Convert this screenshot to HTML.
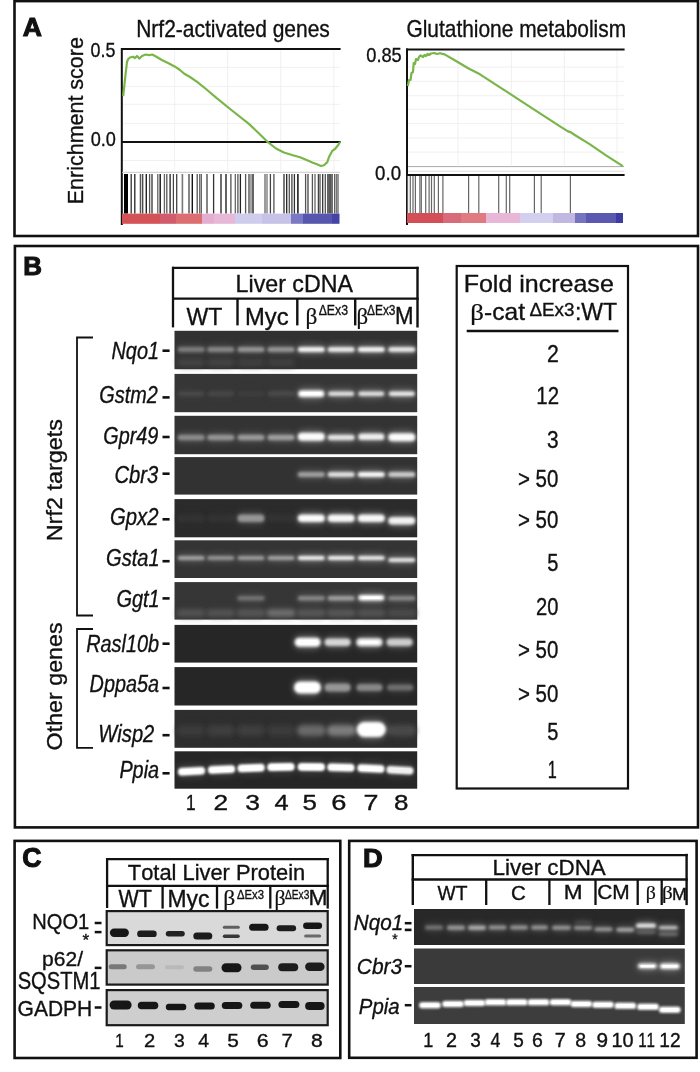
<!DOCTYPE html>
<html><head><meta charset="utf-8"><title>Figure</title>
<style>
html,body{margin:0;padding:0;background:#fff;}
body{width:700px;height:1072px;overflow:hidden;}
svg{display:block;}
text{font-family:'Liberation Sans', sans-serif;font-kerning:none;stroke:#111;stroke-width:0.35px;}
</style></head><body>
<svg width="700" height="1072" viewBox="0 0 700 1072">
<defs>
<filter id="b1" x="-20%" y="-100%" width="140%" height="300%"><feGaussianBlur stdDeviation="1.5"/></filter>
<filter id="b2" x="-20%" y="-100%" width="140%" height="300%"><feGaussianBlur stdDeviation="2"/></filter>
<filter id="b3" x="-30%" y="-150%" width="160%" height="400%"><feGaussianBlur stdDeviation="3"/></filter>
<filter id="b08" x="-20%" y="-100%" width="140%" height="300%"><feGaussianBlur stdDeviation="0.9"/></filter>
<filter id="b05" x="-20%" y="-100%" width="140%" height="300%"><feGaussianBlur stdDeviation="0.7"/></filter>
</defs>
<rect width="700" height="1072" fill="#fff"/>
<rect x="14.5" y="1.1" width="683.5" height="234.9" fill="none" stroke="#111" stroke-width="2.6"/>
<text x="22.89" y="36.05" font-size="26.3" textLength="19.16" lengthAdjust="spacingAndGlyphs" font-weight="bold" fill="#111" style="stroke-width:1.1px">A</text>
<text x="136.18" y="37.30" font-size="24" textLength="193.68" lengthAdjust="spacingAndGlyphs" fill="#111">Nrf2-activated genes</text>
<text x="406.45" y="37.10" font-size="24" textLength="219.63" lengthAdjust="spacingAndGlyphs" fill="#111">Glutathione metabolism</text>
<g transform="translate(83.00,202.50) rotate(-90)"><text x="-1.76" y="0" font-size="22" textLength="167.12" lengthAdjust="spacingAndGlyphs" fill="#111">Enrichment score</text></g>
<text x="90.60" y="57.00" font-size="21" textLength="24.85" lengthAdjust="spacingAndGlyphs" fill="#111">0.5</text>
<text x="90.69" y="146.10" font-size="21" textLength="25.22" lengthAdjust="spacingAndGlyphs" fill="#111">0.0</text>
<text x="366.29" y="62.40" font-size="21" textLength="35.48" lengthAdjust="spacingAndGlyphs" fill="#111">0.85</text>
<text x="375.07" y="179.50" font-size="21" textLength="25.96" lengthAdjust="spacingAndGlyphs" fill="#111">0.0</text>
<line x1="174.6" y1="50" x2="174.6" y2="171" stroke="#ececec" stroke-width="0.8"/>
<line x1="227.7" y1="50" x2="227.7" y2="171" stroke="#ececec" stroke-width="0.8"/>
<line x1="280.7" y1="50" x2="280.7" y2="171" stroke="#ececec" stroke-width="0.8"/>
<line x1="333.8" y1="50" x2="333.8" y2="171" stroke="#ececec" stroke-width="0.8"/>
<line x1="123" y1="67.3" x2="340" y2="67.3" stroke="#ececec" stroke-width="0.8"/>
<line x1="123" y1="86.6" x2="340" y2="86.6" stroke="#ececec" stroke-width="0.8"/>
<line x1="123" y1="104.3" x2="340" y2="104.3" stroke="#ececec" stroke-width="0.8"/>
<line x1="123" y1="123.6" x2="340" y2="123.6" stroke="#ececec" stroke-width="0.8"/>
<line x1="123" y1="160.5" x2="340" y2="160.5" stroke="#ececec" stroke-width="0.8"/>
<line x1="458" y1="50" x2="458" y2="165" stroke="#ececec" stroke-width="0.8"/>
<line x1="511.4" y1="50" x2="511.4" y2="165" stroke="#ececec" stroke-width="0.8"/>
<line x1="564.3" y1="50" x2="564.3" y2="165" stroke="#ececec" stroke-width="0.8"/>
<line x1="617" y1="50" x2="617" y2="165" stroke="#ececec" stroke-width="0.8"/>
<line x1="408" y1="67.1" x2="624" y2="67.1" stroke="#ececec" stroke-width="0.8"/>
<line x1="408" y1="81.4" x2="624" y2="81.4" stroke="#ececec" stroke-width="0.8"/>
<line x1="408" y1="95.7" x2="624" y2="95.7" stroke="#ececec" stroke-width="0.8"/>
<line x1="408" y1="109.3" x2="624" y2="109.3" stroke="#ececec" stroke-width="0.8"/>
<line x1="408" y1="123.6" x2="624" y2="123.6" stroke="#ececec" stroke-width="0.8"/>
<line x1="408" y1="137.9" x2="624" y2="137.9" stroke="#ececec" stroke-width="0.8"/>
<line x1="408" y1="152.1" x2="624" y2="152.1" stroke="#ececec" stroke-width="0.8"/>
<line x1="121.8" y1="48" x2="121.8" y2="225" stroke="#111" stroke-width="2"/>
<line x1="121" y1="49" x2="340.6" y2="49" stroke="#111" stroke-width="2"/>
<line x1="121" y1="141.9" x2="340.6" y2="141.9" stroke="#111" stroke-width="2"/>
<line x1="122" y1="172.3" x2="340" y2="172.3" stroke="#c8c8c8" stroke-width="1"/>
<rect x="124.00" y="174.00" width="4.00" height="39.60" fill="#000"/>
<rect x="130.55" y="174.00" width="1.30" height="39.60" fill="#333"/>
<rect x="134.15" y="174.00" width="1.30" height="39.60" fill="#222"/>
<rect x="139.75" y="174.00" width="1.50" height="39.60" fill="#555"/>
<rect x="142.05" y="174.00" width="1.30" height="39.60" fill="#444"/>
<rect x="145.60" y="174.00" width="1.40" height="39.60" fill="#222"/>
<rect x="148.95" y="174.00" width="1.30" height="39.60" fill="#555"/>
<rect x="151.35" y="174.00" width="1.30" height="39.60" fill="#333"/>
<rect x="157.20" y="174.00" width="1.20" height="39.60" fill="#555"/>
<rect x="159.50" y="174.00" width="1.40" height="39.60" fill="#111"/>
<rect x="163.75" y="174.00" width="1.30" height="39.60" fill="#666"/>
<rect x="166.15" y="174.00" width="1.30" height="39.60" fill="#555"/>
<rect x="169.45" y="174.00" width="1.30" height="39.60" fill="#222"/>
<rect x="172.80" y="174.00" width="1.20" height="39.60" fill="#444"/>
<rect x="176.05" y="174.00" width="1.30" height="39.60" fill="#444"/>
<rect x="181.60" y="174.00" width="1.60" height="39.60" fill="#777"/>
<rect x="188.35" y="174.00" width="1.30" height="39.60" fill="#444"/>
<rect x="191.60" y="174.00" width="1.40" height="39.60" fill="#111"/>
<rect x="196.55" y="174.00" width="1.30" height="39.60" fill="#555"/>
<rect x="199.05" y="174.00" width="1.30" height="39.60" fill="#666"/>
<rect x="200.70" y="174.00" width="1.20" height="39.60" fill="#555"/>
<rect x="206.35" y="174.00" width="1.30" height="39.60" fill="#444"/>
<rect x="212.95" y="174.00" width="1.30" height="39.60" fill="#333"/>
<rect x="220.35" y="174.00" width="1.30" height="39.60" fill="#222"/>
<rect x="225.30" y="174.00" width="1.40" height="39.60" fill="#222"/>
<rect x="230.30" y="174.00" width="1.20" height="39.60" fill="#444"/>
<rect x="234.65" y="174.00" width="1.30" height="39.60" fill="#666"/>
<rect x="237.25" y="174.00" width="1.30" height="39.60" fill="#555"/>
<rect x="239.75" y="174.00" width="1.30" height="39.60" fill="#222"/>
<rect x="244.95" y="174.00" width="1.30" height="39.60" fill="#555"/>
<rect x="248.35" y="174.00" width="1.30" height="39.60" fill="#444"/>
<rect x="250.35" y="174.00" width="1.30" height="39.60" fill="#777"/>
<rect x="252.35" y="174.00" width="1.30" height="39.60" fill="#111"/>
<rect x="264.35" y="174.00" width="1.30" height="39.60" fill="#666"/>
<rect x="266.35" y="174.00" width="1.30" height="39.60" fill="#777"/>
<rect x="269.75" y="174.00" width="1.30" height="39.60" fill="#444"/>
<rect x="273.25" y="174.00" width="1.30" height="39.60" fill="#555"/>
<rect x="283.35" y="174.00" width="1.30" height="39.60" fill="#333"/>
<rect x="286.05" y="174.00" width="1.30" height="39.60" fill="#222"/>
<rect x="288.65" y="174.00" width="1.30" height="39.60" fill="#555"/>
<rect x="291.25" y="174.00" width="1.30" height="39.60" fill="#444"/>
<rect x="293.75" y="174.00" width="1.30" height="39.60" fill="#333"/>
<rect x="297.15" y="174.00" width="1.50" height="39.60" fill="#111"/>
<rect x="304.95" y="174.00" width="1.30" height="39.60" fill="#555"/>
<rect x="307.35" y="174.00" width="1.30" height="39.60" fill="#444"/>
<rect x="311.75" y="174.00" width="1.30" height="39.60" fill="#555"/>
<rect x="314.35" y="174.00" width="1.30" height="39.60" fill="#666"/>
<rect x="317.75" y="174.00" width="1.30" height="39.60" fill="#444"/>
<rect x="319.35" y="174.00" width="1.30" height="39.60" fill="#555"/>
<rect x="322.05" y="174.00" width="1.30" height="39.60" fill="#333"/>
<rect x="324.65" y="174.00" width="1.30" height="39.60" fill="#555"/>
<rect x="327.35" y="174.00" width="1.30" height="39.60" fill="#111"/>
<rect x="329.35" y="174.00" width="1.30" height="39.60" fill="#000"/>
<rect x="331.35" y="174.00" width="1.30" height="39.60" fill="#222"/>
<rect x="334.05" y="174.00" width="1.30" height="39.60" fill="#555"/>
<rect x="335.85" y="174.00" width="1.30" height="39.60" fill="#777"/>
<rect x="337.35" y="174.00" width="1.30" height="39.60" fill="#666"/>
<rect x="122.00" y="213.60" width="38.00" height="10.20" fill="#d45356"/>
<rect x="160.00" y="213.60" width="16.00" height="10.20" fill="#d25c6c"/>
<rect x="176.00" y="213.60" width="26.00" height="10.20" fill="#dc6e72"/>
<rect x="202.00" y="213.60" width="12.00" height="10.20" fill="#e4aed0"/>
<rect x="214.00" y="213.60" width="21.00" height="10.20" fill="#e8b8d8"/>
<rect x="235.00" y="213.60" width="27.00" height="10.20" fill="#cfcdee"/>
<rect x="262.00" y="213.60" width="29.00" height="10.20" fill="#c6c2e8"/>
<rect x="291.00" y="213.60" width="12.00" height="10.20" fill="#7b78c4"/>
<rect x="303.00" y="213.60" width="29.00" height="10.20" fill="#5656ae"/>
<rect x="332.00" y="213.60" width="7.50" height="10.20" fill="#4444a4"/>
<polyline fill="none" stroke="#7ab54a" stroke-width="2.2" stroke-linejoin="round" points="123.2,96.2 124.5,84.0 125.8,72.0 127.0,62.0 128.0,59.3 130.0,57.5 132.9,56.7 135.0,58.0 137.0,56.0 139.3,58.6 142.0,56.0 145.7,54.5 149.0,55.2 152.1,54.5 156.0,56.5 161.8,60.0 168.0,63.0 174.6,66.4 180.0,70.0 184.3,73.8 190.0,77.0 197.1,81.8 206.0,89.0 216.4,97.9 232.0,110.5 248.6,123.6 258.0,132.5 267.9,142.2 276.0,148.5 283.9,152.5 292.0,155.0 300.0,157.3 306.0,159.8 312.9,162.8 317.0,164.2 320.9,166.0 324.0,165.2 327.3,162.1 329.0,157.0 332.2,150.9 335.0,149.0 338.6,144.5 340.0,142.0"/>
<line x1="407" y1="48.4" x2="407" y2="225" stroke="#111" stroke-width="2"/>
<line x1="406" y1="49.4" x2="624.6" y2="49.4" stroke="#111" stroke-width="2"/>
<line x1="408" y1="166.6" x2="624" y2="166.6" stroke="#aaa" stroke-width="1"/>
<line x1="408" y1="171.2" x2="624" y2="171.2" stroke="#ddd" stroke-width="1"/>
<line x1="406" y1="175" x2="624.6" y2="175" stroke="#111" stroke-width="2"/>
<rect x="406.90" y="176.00" width="1.20" height="37.00" fill="#666"/>
<rect x="409.70" y="176.00" width="1.20" height="37.00" fill="#666"/>
<rect x="412.40" y="176.00" width="1.20" height="37.00" fill="#666"/>
<rect x="414.80" y="176.00" width="1.20" height="37.00" fill="#666"/>
<rect x="419.30" y="176.00" width="1.20" height="37.00" fill="#666"/>
<rect x="420.70" y="176.00" width="1.20" height="37.00" fill="#666"/>
<rect x="425.10" y="176.00" width="1.20" height="37.00" fill="#666"/>
<rect x="428.50" y="176.00" width="1.20" height="37.00" fill="#666"/>
<rect x="430.90" y="176.00" width="1.20" height="37.00" fill="#666"/>
<rect x="433.70" y="176.00" width="1.20" height="37.00" fill="#666"/>
<rect x="437.80" y="176.00" width="1.20" height="37.00" fill="#666"/>
<rect x="442.30" y="176.00" width="1.20" height="37.00" fill="#666"/>
<rect x="468.00" y="176.00" width="1.20" height="37.00" fill="#666"/>
<rect x="478.20" y="176.00" width="1.20" height="37.00" fill="#666"/>
<rect x="498.10" y="176.00" width="1.20" height="37.00" fill="#666"/>
<rect x="505.70" y="176.00" width="1.20" height="37.00" fill="#666"/>
<rect x="509.10" y="176.00" width="1.20" height="37.00" fill="#666"/>
<rect x="533.80" y="176.00" width="1.20" height="37.00" fill="#666"/>
<rect x="540.60" y="176.00" width="1.20" height="37.00" fill="#666"/>
<rect x="569.80" y="176.00" width="1.20" height="37.00" fill="#666"/>
<rect x="407.00" y="213.00" width="36.00" height="10.00" fill="#d44e57"/>
<rect x="443.00" y="213.00" width="18.00" height="10.00" fill="#d86a7a"/>
<rect x="461.00" y="213.00" width="25.00" height="10.00" fill="#e07a80"/>
<rect x="486.00" y="213.00" width="34.00" height="10.00" fill="#e8b6d6"/>
<rect x="520.00" y="213.00" width="33.00" height="10.00" fill="#d2d0ee"/>
<rect x="553.00" y="213.00" width="22.00" height="10.00" fill="#c0b8e0"/>
<rect x="575.00" y="213.00" width="11.00" height="10.00" fill="#7474c0"/>
<rect x="586.00" y="213.00" width="30.00" height="10.00" fill="#5a58b0"/>
<rect x="616.00" y="213.00" width="7.00" height="10.00" fill="#3c3ca2"/>
<polyline fill="none" stroke="#7ab54a" stroke-width="2.2" stroke-linejoin="round" points="407.8,86.0 409.0,80.0 410.5,80.0 411.5,73.0 413.0,72.0 413.7,63.0 415.0,64.0 416.0,59.0 418.0,60.0 419.0,57.0 420.6,55.4 423.0,57.0 424.5,55.0 426.0,56.0 427.5,54.0 429.0,55.0 431.0,53.5 434.3,53.0 437.0,54.0 440.0,53.2 444.6,54.4 456.0,61.0 468.6,68.5 480.0,74.3 500.0,87.3 520.0,100.3 540.0,113.3 560.0,126.3 568.0,131.4 571.0,132.4 574.0,134.5 590.0,144.4 606.0,155.3 622.8,166.2"/>
<rect x="14.9" y="246" width="683.1" height="581.4" fill="none" stroke="#111" stroke-width="2.6"/>
<text x="23.22" y="275.15" font-size="26.2" textLength="18.71" lengthAdjust="spacingAndGlyphs" font-weight="bold" fill="#111" style="stroke-width:1.1px">B</text>
<line x1="173" y1="266.8" x2="173" y2="327.4" stroke="#111" stroke-width="2.3"/>
<line x1="417.5" y1="266.8" x2="417.5" y2="327.5" stroke="#111" stroke-width="2.4"/>
<line x1="172" y1="267.9" x2="418.6" y2="267.9" stroke="#111" stroke-width="2.2"/>
<line x1="172" y1="298.7" x2="418.6" y2="298.7" stroke="#111" stroke-width="2.3"/>
<line x1="237.5" y1="298" x2="237.5" y2="325.4" stroke="#111" stroke-width="2.4"/>
<line x1="297.3" y1="298" x2="297.3" y2="325.4" stroke="#111" stroke-width="2.4"/>
<line x1="355.2" y1="298" x2="355.2" y2="325.4" stroke="#111" stroke-width="2.4"/>
<text x="235.60" y="291.80" font-size="24" textLength="117.35" lengthAdjust="spacingAndGlyphs" fill="#111">Liver cDNA</text>
<text x="186.60" y="325.00" font-size="24" textLength="35.83" lengthAdjust="spacingAndGlyphs" fill="#111">WT</text>
<text x="245.05" y="325.00" font-size="24" textLength="43.58" lengthAdjust="spacingAndGlyphs" fill="#111">Myc</text>
<text x="305.49" y="324.02" font-size="22.90" textLength="11.90" lengthAdjust="spacingAndGlyphs" fill="#111" style="font-family:'Liberation Serif',serif;stroke-width:0.2px">β</text>
<text x="318.63" y="314.70" font-size="14.6" textLength="29.41" lengthAdjust="spacingAndGlyphs" fill="#111">ΔEx3</text>
<text x="356.42" y="323.89" font-size="22.57" textLength="11.65" lengthAdjust="spacingAndGlyphs" fill="#111" style="font-family:'Liberation Serif',serif;stroke-width:0.2px">β</text>
<text x="366.94" y="314.80" font-size="14.2" textLength="28.58" lengthAdjust="spacingAndGlyphs" fill="#111">ΔEx3</text>
<text x="395.07" y="323.80" font-size="24" textLength="18.55" lengthAdjust="spacingAndGlyphs" fill="#111">M</text>
<rect x="174.50" y="330.80" width="242.70" height="38.40" fill="#313131"/>
<rect x="174.50" y="373.90" width="242.70" height="38.30" fill="#363636"/>
<rect x="174.50" y="415.80" width="242.70" height="38.40" fill="#333333"/>
<rect x="174.50" y="457.10" width="242.70" height="37.50" fill="#323232"/>
<rect x="174.50" y="499.10" width="242.70" height="38.20" fill="#2b2b2b"/>
<rect x="174.50" y="540.30" width="242.70" height="37.70" fill="#343434"/>
<rect x="174.50" y="582.10" width="242.70" height="37.50" fill="#363636"/>
<rect x="174.50" y="624.90" width="242.70" height="37.70" fill="#262626"/>
<rect x="174.50" y="667.10" width="242.70" height="38.40" fill="#262626"/>
<rect x="174.50" y="709.90" width="242.70" height="37.90" fill="#2e2e2e"/>
<rect x="174.50" y="751.30" width="242.70" height="37.40" fill="#262626"/>
<rect x="176.7" y="344.6" width="29.0" height="10.0" rx="5.0" fill="#7d7d7d" opacity="0.28" filter="url(#b3)"/>
<rect x="177.7" y="347.1" width="27.0" height="5.0" rx="2.5" fill="#7d7d7d" filter="url(#b1)"/>
<rect x="206.3" y="344.6" width="29.0" height="10.0" rx="5.0" fill="#878787" opacity="0.28" filter="url(#b3)"/>
<rect x="207.3" y="347.1" width="27.0" height="5.0" rx="2.5" fill="#878787" filter="url(#b1)"/>
<rect x="236.5" y="344.6" width="29.0" height="10.0" rx="5.0" fill="#969696" opacity="0.28" filter="url(#b3)"/>
<rect x="237.5" y="347.1" width="27.0" height="5.0" rx="2.5" fill="#969696" filter="url(#b1)"/>
<rect x="266.5" y="344.6" width="29.0" height="10.0" rx="5.0" fill="#969696" opacity="0.28" filter="url(#b3)"/>
<rect x="267.5" y="347.1" width="27.0" height="5.0" rx="2.5" fill="#969696" filter="url(#b1)"/>
<rect x="296.8" y="344.6" width="29.0" height="10.0" rx="5.0" fill="#f5f5f5" opacity="0.28" filter="url(#b3)"/>
<rect x="297.8" y="347.1" width="27.0" height="5.0" rx="2.5" fill="#f5f5f5" filter="url(#b1)"/>
<rect x="326.7" y="344.6" width="29.0" height="10.0" rx="5.0" fill="#ebebeb" opacity="0.28" filter="url(#b3)"/>
<rect x="327.7" y="347.1" width="27.0" height="5.0" rx="2.5" fill="#ebebeb" filter="url(#b1)"/>
<rect x="356.8" y="344.6" width="29.0" height="10.0" rx="5.0" fill="#f5f5f5" opacity="0.28" filter="url(#b3)"/>
<rect x="357.8" y="347.1" width="27.0" height="5.0" rx="2.5" fill="#f5f5f5" filter="url(#b1)"/>
<rect x="387.3" y="344.6" width="29.0" height="10.0" rx="5.0" fill="#e8e8e8" opacity="0.28" filter="url(#b3)"/>
<rect x="388.3" y="347.1" width="27.0" height="5.0" rx="2.5" fill="#e8e8e8" filter="url(#b1)"/>
<rect x="176.7" y="357.0" width="29.0" height="11.0" rx="5.5" fill="#444444" opacity="0.28" filter="url(#b3)"/>
<rect x="177.7" y="359.5" width="27.0" height="6.0" rx="3.0" fill="#444444" filter="url(#b2)"/>
<rect x="206.3" y="357.0" width="29.0" height="11.0" rx="5.5" fill="#444444" opacity="0.28" filter="url(#b3)"/>
<rect x="207.3" y="359.5" width="27.0" height="6.0" rx="3.0" fill="#444444" filter="url(#b2)"/>
<rect x="236.5" y="357.0" width="29.0" height="11.0" rx="5.5" fill="#404040" opacity="0.28" filter="url(#b3)"/>
<rect x="237.5" y="359.5" width="27.0" height="6.0" rx="3.0" fill="#404040" filter="url(#b2)"/>
<rect x="266.5" y="357.0" width="29.0" height="11.0" rx="5.5" fill="#404040" opacity="0.28" filter="url(#b3)"/>
<rect x="267.5" y="359.5" width="27.0" height="6.0" rx="3.0" fill="#404040" filter="url(#b2)"/>
<rect x="177.2" y="388.9" width="28.0" height="9.5" rx="4.8" fill="#484848" opacity="0.28" filter="url(#b3)"/>
<rect x="178.2" y="391.4" width="26.0" height="4.5" rx="2.2" fill="#484848" filter="url(#b1)"/>
<rect x="206.8" y="388.9" width="28.0" height="9.5" rx="4.8" fill="#464646" opacity="0.28" filter="url(#b3)"/>
<rect x="207.8" y="391.4" width="26.0" height="4.5" rx="2.2" fill="#464646" filter="url(#b1)"/>
<rect x="237.0" y="388.9" width="28.0" height="9.5" rx="4.8" fill="#3c3c3c" opacity="0.28" filter="url(#b3)"/>
<rect x="238.0" y="391.4" width="26.0" height="4.5" rx="2.2" fill="#3c3c3c" filter="url(#b1)"/>
<rect x="267.0" y="388.9" width="28.0" height="9.5" rx="4.8" fill="#4a4a4a" opacity="0.28" filter="url(#b3)"/>
<rect x="268.0" y="391.4" width="26.0" height="4.5" rx="2.2" fill="#4a4a4a" filter="url(#b1)"/>
<rect x="327.2" y="388.9" width="28.0" height="9.5" rx="4.8" fill="#e4e4e4" opacity="0.28" filter="url(#b3)"/>
<rect x="328.2" y="391.4" width="26.0" height="4.5" rx="2.2" fill="#e4e4e4" filter="url(#b1)"/>
<rect x="357.3" y="388.9" width="28.0" height="9.5" rx="4.8" fill="#e4e4e4" opacity="0.28" filter="url(#b3)"/>
<rect x="358.3" y="391.4" width="26.0" height="4.5" rx="2.2" fill="#e4e4e4" filter="url(#b1)"/>
<rect x="387.8" y="388.9" width="28.0" height="9.5" rx="4.8" fill="#eeeeee" opacity="0.28" filter="url(#b3)"/>
<rect x="388.8" y="391.4" width="26.0" height="4.5" rx="2.2" fill="#eeeeee" filter="url(#b1)"/>
<rect x="176.7" y="432.2" width="29.0" height="10.5" rx="5.2" fill="#8c8c8c" opacity="0.28" filter="url(#b3)"/>
<rect x="177.7" y="434.8" width="27.0" height="5.5" rx="2.8" fill="#8c8c8c" filter="url(#b1)"/>
<rect x="206.3" y="432.2" width="29.0" height="10.5" rx="5.2" fill="#969696" opacity="0.28" filter="url(#b3)"/>
<rect x="207.3" y="434.8" width="27.0" height="5.5" rx="2.8" fill="#969696" filter="url(#b1)"/>
<rect x="236.5" y="432.2" width="29.0" height="10.5" rx="5.2" fill="#9b9b9b" opacity="0.28" filter="url(#b3)"/>
<rect x="237.5" y="434.8" width="27.0" height="5.5" rx="2.8" fill="#9b9b9b" filter="url(#b1)"/>
<rect x="266.5" y="432.2" width="29.0" height="10.5" rx="5.2" fill="#a0a0a0" opacity="0.28" filter="url(#b3)"/>
<rect x="267.5" y="434.8" width="27.0" height="5.5" rx="2.8" fill="#a0a0a0" filter="url(#b1)"/>
<rect x="326.7" y="432.2" width="29.0" height="10.5" rx="5.2" fill="#e6e6e6" opacity="0.28" filter="url(#b3)"/>
<rect x="327.7" y="434.8" width="27.0" height="5.5" rx="2.8" fill="#e6e6e6" filter="url(#b1)"/>
<rect x="296.8" y="469.5" width="29.0" height="10.0" rx="5.0" fill="#a0a0a0" opacity="0.28" filter="url(#b3)"/>
<rect x="297.8" y="472.0" width="27.0" height="5.0" rx="2.5" fill="#a0a0a0" filter="url(#b1)"/>
<rect x="326.7" y="469.5" width="29.0" height="10.0" rx="5.0" fill="#e2e2e2" opacity="0.28" filter="url(#b3)"/>
<rect x="327.7" y="472.0" width="27.0" height="5.0" rx="2.5" fill="#e2e2e2" filter="url(#b1)"/>
<rect x="356.8" y="469.5" width="29.0" height="10.0" rx="5.0" fill="#fafafa" opacity="0.28" filter="url(#b3)"/>
<rect x="357.8" y="472.0" width="27.0" height="5.0" rx="2.5" fill="#fafafa" filter="url(#b1)"/>
<rect x="387.3" y="469.5" width="29.0" height="10.0" rx="5.0" fill="#cdcdcd" opacity="0.28" filter="url(#b3)"/>
<rect x="388.3" y="472.0" width="27.0" height="5.0" rx="2.5" fill="#cdcdcd" filter="url(#b1)"/>
<rect x="176.7" y="512.0" width="29.0" height="12.5" rx="6.2" fill="#313131" opacity="0.28" filter="url(#b3)"/>
<rect x="177.7" y="514.5" width="27.0" height="7.5" rx="3.8" fill="#313131" filter="url(#b1)"/>
<rect x="206.3" y="512.0" width="29.0" height="12.5" rx="6.2" fill="#303030" opacity="0.28" filter="url(#b3)"/>
<rect x="207.3" y="514.5" width="27.0" height="7.5" rx="3.8" fill="#303030" filter="url(#b1)"/>
<rect x="236.5" y="512.0" width="29.0" height="12.5" rx="6.2" fill="#969696" opacity="0.28" filter="url(#b3)"/>
<rect x="237.5" y="514.5" width="27.0" height="7.5" rx="3.8" fill="#969696" filter="url(#b1)"/>
<rect x="266.5" y="512.0" width="29.0" height="12.5" rx="6.2" fill="#303030" opacity="0.28" filter="url(#b3)"/>
<rect x="267.5" y="514.5" width="27.0" height="7.5" rx="3.8" fill="#303030" filter="url(#b1)"/>
<rect x="296.8" y="512.0" width="29.0" height="12.5" rx="6.2" fill="#fcfcfc" opacity="0.28" filter="url(#b3)"/>
<rect x="297.8" y="514.5" width="27.0" height="7.5" rx="3.8" fill="#fcfcfc" filter="url(#b1)"/>
<rect x="326.7" y="512.0" width="29.0" height="12.5" rx="6.2" fill="#f8f8f8" opacity="0.28" filter="url(#b3)"/>
<rect x="327.7" y="514.5" width="27.0" height="7.5" rx="3.8" fill="#f8f8f8" filter="url(#b1)"/>
<rect x="356.8" y="512.0" width="29.0" height="12.5" rx="6.2" fill="#f8f8f8" opacity="0.28" filter="url(#b3)"/>
<rect x="357.8" y="514.5" width="27.0" height="7.5" rx="3.8" fill="#f8f8f8" filter="url(#b1)"/>
<rect x="176.7" y="553.5" width="29.0" height="9.0" rx="4.5" fill="#a5a5a5" opacity="0.28" filter="url(#b3)"/>
<rect x="177.7" y="556.0" width="27.0" height="4.0" rx="2.0" fill="#a5a5a5" filter="url(#b1)"/>
<rect x="206.3" y="553.5" width="29.0" height="9.0" rx="4.5" fill="#969696" opacity="0.28" filter="url(#b3)"/>
<rect x="207.3" y="556.0" width="27.0" height="4.0" rx="2.0" fill="#969696" filter="url(#b1)"/>
<rect x="236.5" y="553.5" width="29.0" height="9.0" rx="4.5" fill="#9e9e9e" opacity="0.28" filter="url(#b3)"/>
<rect x="237.5" y="556.0" width="27.0" height="4.0" rx="2.0" fill="#9e9e9e" filter="url(#b1)"/>
<rect x="266.5" y="553.5" width="29.0" height="9.0" rx="4.5" fill="#a5a5a5" opacity="0.28" filter="url(#b3)"/>
<rect x="267.5" y="556.0" width="27.0" height="4.0" rx="2.0" fill="#a5a5a5" filter="url(#b1)"/>
<rect x="296.8" y="553.5" width="29.0" height="9.0" rx="4.5" fill="#f5f5f5" opacity="0.28" filter="url(#b3)"/>
<rect x="297.8" y="556.0" width="27.0" height="4.0" rx="2.0" fill="#f5f5f5" filter="url(#b1)"/>
<rect x="326.7" y="553.5" width="29.0" height="9.0" rx="4.5" fill="#f5f5f5" opacity="0.28" filter="url(#b3)"/>
<rect x="327.7" y="556.0" width="27.0" height="4.0" rx="2.0" fill="#f5f5f5" filter="url(#b1)"/>
<rect x="356.8" y="553.5" width="29.0" height="9.0" rx="4.5" fill="#f0f0f0" opacity="0.28" filter="url(#b3)"/>
<rect x="357.8" y="556.0" width="27.0" height="4.0" rx="2.0" fill="#f0f0f0" filter="url(#b1)"/>
<rect x="236.5" y="593.5" width="29.0" height="9.5" rx="4.8" fill="#737373" opacity="0.28" filter="url(#b3)"/>
<rect x="237.5" y="596.0" width="27.0" height="4.5" rx="2.2" fill="#737373" filter="url(#b1)"/>
<rect x="296.8" y="593.5" width="29.0" height="9.5" rx="4.8" fill="#878787" opacity="0.28" filter="url(#b3)"/>
<rect x="297.8" y="596.0" width="27.0" height="4.5" rx="2.2" fill="#878787" filter="url(#b1)"/>
<rect x="326.7" y="593.5" width="29.0" height="9.5" rx="4.8" fill="#a0a0a0" opacity="0.28" filter="url(#b3)"/>
<rect x="327.7" y="596.0" width="27.0" height="4.5" rx="2.2" fill="#a0a0a0" filter="url(#b1)"/>
<rect x="387.3" y="593.5" width="29.0" height="9.5" rx="4.8" fill="#878787" opacity="0.28" filter="url(#b3)"/>
<rect x="388.3" y="596.0" width="27.0" height="4.5" rx="2.2" fill="#878787" filter="url(#b1)"/>
<rect x="176.2" y="607.2" width="30.0" height="11.5" rx="5.8" fill="#525252" opacity="0.28" filter="url(#b3)"/>
<rect x="177.2" y="609.8" width="28.0" height="6.5" rx="3.2" fill="#525252" filter="url(#b2)"/>
<rect x="205.8" y="607.2" width="30.0" height="11.5" rx="5.8" fill="#525252" opacity="0.28" filter="url(#b3)"/>
<rect x="206.8" y="609.8" width="28.0" height="6.5" rx="3.2" fill="#525252" filter="url(#b2)"/>
<rect x="236.0" y="607.2" width="30.0" height="11.5" rx="5.8" fill="#565656" opacity="0.28" filter="url(#b3)"/>
<rect x="237.0" y="609.8" width="28.0" height="6.5" rx="3.2" fill="#565656" filter="url(#b2)"/>
<rect x="266.0" y="607.2" width="30.0" height="11.5" rx="5.8" fill="#707070" opacity="0.28" filter="url(#b3)"/>
<rect x="267.0" y="609.8" width="28.0" height="6.5" rx="3.2" fill="#707070" filter="url(#b2)"/>
<rect x="296.3" y="607.2" width="30.0" height="11.5" rx="5.8" fill="#585858" opacity="0.28" filter="url(#b3)"/>
<rect x="297.3" y="609.8" width="28.0" height="6.5" rx="3.2" fill="#585858" filter="url(#b2)"/>
<rect x="326.2" y="607.2" width="30.0" height="11.5" rx="5.8" fill="#585858" opacity="0.28" filter="url(#b3)"/>
<rect x="327.2" y="609.8" width="28.0" height="6.5" rx="3.2" fill="#585858" filter="url(#b2)"/>
<rect x="356.3" y="607.2" width="30.0" height="11.5" rx="5.8" fill="#525252" opacity="0.28" filter="url(#b3)"/>
<rect x="357.3" y="609.8" width="28.0" height="6.5" rx="3.2" fill="#525252" filter="url(#b2)"/>
<rect x="386.8" y="607.2" width="30.0" height="11.5" rx="5.8" fill="#4c4c4c" opacity="0.28" filter="url(#b3)"/>
<rect x="387.8" y="609.8" width="28.0" height="6.5" rx="3.2" fill="#4c4c4c" filter="url(#b2)"/>
<rect x="176.2" y="723.0" width="30.0" height="15.0" rx="7.5" fill="#3a3a3a" opacity="0.28" filter="url(#b3)"/>
<rect x="177.2" y="725.5" width="28.0" height="10.0" rx="5.0" fill="#3a3a3a" filter="url(#b2)"/>
<rect x="205.8" y="723.0" width="30.0" height="15.0" rx="7.5" fill="#3c3c3c" opacity="0.28" filter="url(#b3)"/>
<rect x="206.8" y="725.5" width="28.0" height="10.0" rx="5.0" fill="#3c3c3c" filter="url(#b2)"/>
<rect x="236.0" y="723.0" width="30.0" height="15.0" rx="7.5" fill="#3c3c3c" opacity="0.28" filter="url(#b3)"/>
<rect x="237.0" y="725.5" width="28.0" height="10.0" rx="5.0" fill="#3c3c3c" filter="url(#b2)"/>
<rect x="266.0" y="723.0" width="30.0" height="15.0" rx="7.5" fill="#3a3a3a" opacity="0.28" filter="url(#b3)"/>
<rect x="267.0" y="725.5" width="28.0" height="10.0" rx="5.0" fill="#3a3a3a" filter="url(#b2)"/>
<rect x="296.3" y="723.0" width="30.0" height="15.0" rx="7.5" fill="#696969" opacity="0.28" filter="url(#b3)"/>
<rect x="297.3" y="725.5" width="28.0" height="10.0" rx="5.0" fill="#696969" filter="url(#b2)"/>
<rect x="326.2" y="723.0" width="30.0" height="15.0" rx="7.5" fill="#7d7d7d" opacity="0.28" filter="url(#b3)"/>
<rect x="327.2" y="725.5" width="28.0" height="10.0" rx="5.0" fill="#7d7d7d" filter="url(#b2)"/>
<rect x="386.8" y="723.0" width="30.0" height="15.0" rx="7.5" fill="#484848" opacity="0.28" filter="url(#b3)"/>
<rect x="387.8" y="725.5" width="28.0" height="10.0" rx="5.0" fill="#484848" filter="url(#b2)"/>
<rect x="297.3" y="387.9" width="28.0" height="11.5" rx="5.8" fill="#ffffff" opacity="0.28" filter="url(#b3)"/>
<rect x="298.3" y="390.4" width="26.0" height="6.5" rx="3.2" fill="#ffffff" filter="url(#b1)"/>
<rect x="301.3" y="392.1" width="20.0" height="3.0" rx="1.5" fill="#ffffff" filter="url(#b05)"/>
<rect x="296.8" y="430.3" width="29.0" height="13.0" rx="6.5" fill="#fcfcfc" opacity="0.28" filter="url(#b3)"/>
<rect x="297.8" y="432.8" width="27.0" height="8.0" rx="4.0" fill="#fcfcfc" filter="url(#b1)"/>
<rect x="387.3" y="430.8" width="29.0" height="13.0" rx="6.5" fill="#fcfcfc" opacity="0.28" filter="url(#b3)"/>
<rect x="388.3" y="433.3" width="27.0" height="8.0" rx="4.0" fill="#fcfcfc" filter="url(#b1)"/>
<rect x="357.3" y="431.1" width="28.0" height="11.5" rx="5.8" fill="#f0f0f0" opacity="0.28" filter="url(#b3)"/>
<rect x="358.3" y="433.6" width="26.0" height="6.5" rx="3.2" fill="#f0f0f0" filter="url(#b1)"/>
<rect x="387.3" y="514.5" width="29.0" height="12.5" rx="6.2" fill="#f2f2f2" opacity="0.28" filter="url(#b3)"/>
<rect x="388.3" y="517.0" width="27.0" height="7.5" rx="3.8" fill="#f2f2f2" filter="url(#b1)"/>
<rect x="387.3" y="555.5" width="29.0" height="9.0" rx="4.5" fill="#ebebeb" opacity="0.28" filter="url(#b3)"/>
<rect x="388.3" y="558.0" width="27.0" height="4.0" rx="2.0" fill="#ebebeb" filter="url(#b1)"/>
<rect x="357.3" y="592.5" width="28.0" height="10.5" rx="5.2" fill="#fcfcfc" opacity="0.28" filter="url(#b3)"/>
<rect x="358.3" y="595.0" width="26.0" height="5.5" rx="2.8" fill="#fcfcfc" filter="url(#b1)"/>
<rect x="362.3" y="596.5" width="18.0" height="2.5" rx="1.2" fill="#ffffff" filter="url(#b05)"/>
<rect x="293.7" y="635.3" width="28.0" height="14.0" rx="7.0" fill="#fcfcfc" opacity="0.28" filter="url(#b3)"/>
<rect x="294.7" y="637.8" width="26.0" height="9.0" rx="4.5" fill="#fcfcfc" filter="url(#b1)"/>
<rect x="323.6" y="636.0" width="28.0" height="12.5" rx="6.2" fill="#d7d7d7" opacity="0.28" filter="url(#b3)"/>
<rect x="324.6" y="638.5" width="26.0" height="7.5" rx="3.8" fill="#d7d7d7" filter="url(#b1)"/>
<rect x="355.4" y="635.8" width="28.0" height="13.0" rx="6.5" fill="#f0f0f0" opacity="0.28" filter="url(#b3)"/>
<rect x="356.4" y="638.3" width="26.0" height="8.0" rx="4.0" fill="#f0f0f0" filter="url(#b1)"/>
<rect x="385.6" y="636.0" width="28.0" height="12.5" rx="6.2" fill="#cdcdcd" opacity="0.28" filter="url(#b3)"/>
<rect x="386.6" y="638.5" width="26.0" height="7.5" rx="3.8" fill="#cdcdcd" filter="url(#b1)"/>
<rect x="297.7" y="640.0" width="20.0" height="4.5" rx="2.2" fill="#ffffff" filter="url(#b05)"/>
<rect x="360.4" y="640.8" width="18.0" height="3.0" rx="1.5" fill="#ffffff" filter="url(#b05)"/>
<rect x="293.0" y="679.0" width="29.0" height="17.0" rx="8.5" fill="#ffffff" opacity="0.28" filter="url(#b3)"/>
<rect x="294.0" y="681.5" width="27.0" height="12.0" rx="6.0" fill="#ffffff" filter="url(#b1)"/>
<rect x="297.0" y="684.0" width="21.0" height="7.0" rx="3.5" fill="#ffffff" filter="url(#b05)"/>
<rect x="323.6" y="681.0" width="28.0" height="13.0" rx="6.5" fill="#969696" opacity="0.28" filter="url(#b3)"/>
<rect x="324.6" y="683.5" width="26.0" height="8.0" rx="4.0" fill="#969696" filter="url(#b1)"/>
<rect x="355.5" y="681.5" width="28.0" height="12.0" rx="6.0" fill="#878787" opacity="0.28" filter="url(#b3)"/>
<rect x="356.5" y="684.0" width="26.0" height="7.0" rx="3.5" fill="#878787" filter="url(#b1)"/>
<rect x="386.2" y="682.0" width="28.0" height="11.0" rx="5.5" fill="#6e6e6e" opacity="0.28" filter="url(#b3)"/>
<rect x="387.2" y="684.5" width="26.0" height="6.0" rx="3.0" fill="#6e6e6e" filter="url(#b1)"/>
<rect x="355.8" y="719.5" width="31.0" height="20.0" rx="10.0" fill="#ffffff" opacity="0.28" filter="url(#b3)"/>
<rect x="356.8" y="722.0" width="29.0" height="15.0" rx="7.5" fill="#ffffff" filter="url(#b1)"/>
<rect x="360.3" y="725.0" width="22.0" height="9.0" rx="4.5" fill="#ffffff" filter="url(#b05)"/>
<rect x="177.8" y="767.2" width="27.5" height="8.0" rx="4.0" fill="#f5f5f5" filter="url(#b08)" transform="rotate(-3 191.5 771.2)"/>
<rect x="180.0" y="769.0" width="23.0" height="4.5" rx="2.2" fill="#ffffff" filter="url(#b05)" transform="rotate(-3 191.5 771.2)"/>
<rect x="176.5" y="764.2" width="30" height="14" rx="7" fill="#fff" opacity="0.10" filter="url(#b3)"/>
<rect x="207.8" y="765.6" width="27.5" height="8.0" rx="4.0" fill="#f8f8f8" filter="url(#b08)" transform="rotate(-2.5 221.6 769.6)"/>
<rect x="210.1" y="767.4" width="23.0" height="4.5" rx="2.2" fill="#ffffff" filter="url(#b05)" transform="rotate(-2.5 221.6 769.6)"/>
<rect x="206.6" y="762.6" width="30" height="14" rx="7" fill="#fff" opacity="0.10" filter="url(#b3)"/>
<rect x="237.4" y="764.0" width="27.5" height="8.0" rx="4.0" fill="#f8f8f8" filter="url(#b08)" transform="rotate(-2 251.2 768.0)"/>
<rect x="239.7" y="765.8" width="23.0" height="4.5" rx="2.2" fill="#ffffff" filter="url(#b05)" transform="rotate(-2 251.2 768.0)"/>
<rect x="236.2" y="761.0" width="30" height="14" rx="7" fill="#fff" opacity="0.10" filter="url(#b3)"/>
<rect x="267.2" y="763.0" width="27.5" height="8.0" rx="4.0" fill="#fafafa" filter="url(#b08)" transform="rotate(-1 281.0 767.0)"/>
<rect x="269.5" y="764.8" width="23.0" height="4.5" rx="2.2" fill="#ffffff" filter="url(#b05)" transform="rotate(-1 281.0 767.0)"/>
<rect x="266.0" y="760.0" width="30" height="14" rx="7" fill="#fff" opacity="0.10" filter="url(#b3)"/>
<rect x="297.6" y="763.0" width="27.5" height="8.0" rx="4.0" fill="#fafafa" filter="url(#b08)" transform="rotate(0.5 311.4 767.0)"/>
<rect x="299.9" y="764.8" width="23.0" height="4.5" rx="2.2" fill="#ffffff" filter="url(#b05)" transform="rotate(0.5 311.4 767.0)"/>
<rect x="296.4" y="760.0" width="30" height="14" rx="7" fill="#fff" opacity="0.10" filter="url(#b3)"/>
<rect x="327.2" y="763.5" width="27.5" height="8.0" rx="4.0" fill="#f8f8f8" filter="url(#b08)" transform="rotate(1.5 341.0 767.5)"/>
<rect x="329.5" y="765.2" width="23.0" height="4.5" rx="2.2" fill="#ffffff" filter="url(#b05)" transform="rotate(1.5 341.0 767.5)"/>
<rect x="326.0" y="760.5" width="30" height="14" rx="7" fill="#fff" opacity="0.10" filter="url(#b3)"/>
<rect x="357.2" y="764.6" width="27.5" height="8.0" rx="4.0" fill="#f5f5f5" filter="url(#b08)" transform="rotate(2.5 371.0 768.6)"/>
<rect x="359.5" y="766.4" width="23.0" height="4.5" rx="2.2" fill="#ffffff" filter="url(#b05)" transform="rotate(2.5 371.0 768.6)"/>
<rect x="356.0" y="761.6" width="30" height="14" rx="7" fill="#fff" opacity="0.10" filter="url(#b3)"/>
<rect x="386.2" y="766.2" width="27.5" height="8.0" rx="4.0" fill="#e1e1e1" filter="url(#b08)" transform="rotate(3 400.0 770.2)"/>
<rect x="388.5" y="768.0" width="23.0" height="4.5" rx="2.2" fill="#f0f0f0" filter="url(#b05)" transform="rotate(3 400.0 770.2)"/>
<rect x="385.0" y="763.2" width="30" height="14" rx="7" fill="#fff" opacity="0.10" filter="url(#b3)"/>
<text x="111.49" y="358.70" font-size="23.5" textLength="47.59" lengthAdjust="spacingAndGlyphs" font-style="italic" fill="#111">Nqo1</text>
<line x1="162.5" y1="350.7" x2="169.6" y2="350.7" stroke="#111" stroke-width="2.6"/>
<text x="99.32" y="402.80" font-size="23.5" textLength="58.37" lengthAdjust="spacingAndGlyphs" font-style="italic" fill="#111">Gstm2</text>
<line x1="162.5" y1="397.4" x2="169.6" y2="397.4" stroke="#111" stroke-width="2.6"/>
<text x="103.32" y="444.40" font-size="23.5" textLength="55.08" lengthAdjust="spacingAndGlyphs" font-style="italic" fill="#111">Gpr49</text>
<line x1="162.5" y1="437" x2="169.6" y2="437" stroke="#111" stroke-width="2.6"/>
<text x="114.49" y="483.40" font-size="23.5" textLength="43.79" lengthAdjust="spacingAndGlyphs" font-style="italic" fill="#111">Cbr3</text>
<line x1="162.5" y1="473.7" x2="169.6" y2="473.7" stroke="#111" stroke-width="2.6"/>
<text x="110.00" y="524.50" font-size="23.5" textLength="48.40" lengthAdjust="spacingAndGlyphs" font-style="italic" fill="#111">Gpx2</text>
<line x1="162.5" y1="519.3" x2="169.6" y2="519.3" stroke="#111" stroke-width="2.6"/>
<text x="106.11" y="566.40" font-size="23.5" textLength="53.59" lengthAdjust="spacingAndGlyphs" font-style="italic" fill="#111">Gsta1</text>
<line x1="162.5" y1="561.2" x2="169.6" y2="561.2" stroke="#111" stroke-width="2.6"/>
<text x="116.42" y="606.50" font-size="23.5" textLength="43.27" lengthAdjust="spacingAndGlyphs" font-style="italic" fill="#111">Ggt1</text>
<line x1="162.5" y1="598.4" x2="169.6" y2="598.4" stroke="#111" stroke-width="2.6"/>
<text x="86.19" y="652.40" font-size="23.5" textLength="72.82" lengthAdjust="spacingAndGlyphs" font-style="italic" fill="#111">Rasl10b</text>
<line x1="162.5" y1="643.7" x2="169.6" y2="643.7" stroke="#111" stroke-width="2.6"/>
<text x="89.59" y="692.40" font-size="23.5" textLength="69.49" lengthAdjust="spacingAndGlyphs" font-style="italic" fill="#111">Dppa5a</text>
<line x1="162.5" y1="688" x2="169.6" y2="688" stroke="#111" stroke-width="2.6"/>
<text x="98.36" y="742.10" font-size="23.5" textLength="55.93" lengthAdjust="spacingAndGlyphs" font-style="italic" fill="#111">Wisp2</text>
<line x1="162.5" y1="735.2" x2="169.6" y2="735.2" stroke="#111" stroke-width="2.6"/>
<text x="119.39" y="778.10" font-size="23.5" textLength="39.69" lengthAdjust="spacingAndGlyphs" font-style="italic" fill="#111">Ppia</text>
<line x1="162.5" y1="773.3" x2="169.6" y2="773.3" stroke="#111" stroke-width="2.6"/>
<polyline fill="none" stroke="#111" stroke-width="1.8" points="93,337.5 77,337.5 77,615.5 93,615.5"/>
<polyline fill="none" stroke="#111" stroke-width="1.8" points="93,629 77,629 77,747.9 93,747.9"/>
<g transform="translate(61.80,539.40) rotate(-90)"><text x="-1.92" y="0" font-size="22" textLength="122.37" lengthAdjust="spacingAndGlyphs" fill="#111">Nrf2 targets</text></g>
<g transform="translate(62.00,749.30) rotate(-90)"><text x="-1.10" y="0" font-size="22" textLength="127.94" lengthAdjust="spacingAndGlyphs" fill="#111">Other genes</text></g>
<text x="186.07" y="809.60" font-size="22" textLength="9.67" lengthAdjust="spacingAndGlyphs" fill="#111">1</text>
<text x="213.58" y="809.60" font-size="22" textLength="14.65" lengthAdjust="spacingAndGlyphs" fill="#111">2</text>
<text x="245.39" y="809.60" font-size="22" textLength="14.78" lengthAdjust="spacingAndGlyphs" fill="#111">3</text>
<text x="274.42" y="809.60" font-size="22" textLength="14.13" lengthAdjust="spacingAndGlyphs" fill="#111">4</text>
<text x="302.56" y="809.60" font-size="22" textLength="14.43" lengthAdjust="spacingAndGlyphs" fill="#111">5</text>
<text x="331.31" y="809.60" font-size="22" textLength="15.19" lengthAdjust="spacingAndGlyphs" fill="#111">6</text>
<text x="363.52" y="809.60" font-size="22" textLength="14.93" lengthAdjust="spacingAndGlyphs" fill="#111">7</text>
<text x="393.97" y="809.60" font-size="22" textLength="14.46" lengthAdjust="spacingAndGlyphs" fill="#111">8</text>
<rect x="456.7" y="266" width="171.3" height="522.5" fill="none" stroke="#111" stroke-width="2.2"/>
<text x="463.65" y="292.00" font-size="24" textLength="150.16" lengthAdjust="spacingAndGlyphs" fill="#111">Fold increase</text>
<text x="470.27" y="320.28" font-size="23.12" textLength="13.67" lengthAdjust="spacingAndGlyphs" fill="#111" style="font-family:'Liberation Serif',serif;stroke-width:0.2px">β</text>
<text x="484.11" y="320.10" font-size="24" textLength="40.87" lengthAdjust="spacingAndGlyphs" fill="#111">-cat</text>
<text x="529.44" y="315.90" font-size="18.2" textLength="45.09" lengthAdjust="spacingAndGlyphs" fill="#111">ΔEx3</text>
<text x="574.90" y="320.10" font-size="24" textLength="42.23" lengthAdjust="spacingAndGlyphs" fill="#111">:WT</text>
<line x1="466.7" y1="330.9" x2="618.5" y2="330.9" stroke="#111" stroke-width="2.5"/>
<text x="547.03" y="361.60" font-size="23.5" textLength="11.84" lengthAdjust="spacingAndGlyphs" fill="#111">2</text>
<text x="536.35" y="403.80" font-size="23.5" textLength="22.68" lengthAdjust="spacingAndGlyphs" fill="#111">12</text>
<text x="546.90" y="447.60" font-size="23.5" textLength="11.61" lengthAdjust="spacingAndGlyphs" fill="#111">3</text>
<text x="517.99" y="486.90" font-size="23.5" textLength="40.41" lengthAdjust="spacingAndGlyphs" fill="#111">&gt; 50</text>
<text x="517.99" y="528.20" font-size="23.5" textLength="40.41" lengthAdjust="spacingAndGlyphs" fill="#111">&gt; 50</text>
<text x="547.30" y="571.30" font-size="23.5" textLength="11.14" lengthAdjust="spacingAndGlyphs" fill="#111">5</text>
<text x="535.99" y="615.00" font-size="23.5" textLength="22.40" lengthAdjust="spacingAndGlyphs" fill="#111">20</text>
<text x="517.99" y="658.20" font-size="23.5" textLength="40.41" lengthAdjust="spacingAndGlyphs" fill="#111">&gt; 50</text>
<text x="517.99" y="701.70" font-size="23.5" textLength="40.41" lengthAdjust="spacingAndGlyphs" fill="#111">&gt; 50</text>
<text x="547.30" y="739.70" font-size="23.5" textLength="11.14" lengthAdjust="spacingAndGlyphs" fill="#111">5</text>
<text x="547.76" y="777.90" font-size="23.5" textLength="9.03" lengthAdjust="spacingAndGlyphs" fill="#111">1</text>
<rect x="14.6" y="840.9" width="325.7" height="217.10000000000002" fill="none" stroke="#111" stroke-width="2.6"/>
<text x="22.36" y="867.40" font-size="26.8" textLength="19.22" lengthAdjust="spacingAndGlyphs" font-weight="bold" fill="#111" style="stroke-width:1.1px">C</text>
<line x1="107.1" y1="858" x2="107.1" y2="908" stroke="#111" stroke-width="2.3"/>
<line x1="327.7" y1="858" x2="327.7" y2="908.6" stroke="#111" stroke-width="2.3"/>
<line x1="106" y1="859.1" x2="328.8" y2="859.1" stroke="#111" stroke-width="2.3"/>
<line x1="106" y1="885.9" x2="328.8" y2="885.9" stroke="#111" stroke-width="2.4"/>
<line x1="162.6" y1="885" x2="162.6" y2="908.6" stroke="#111" stroke-width="2.3"/>
<line x1="217" y1="885" x2="217" y2="908.6" stroke="#111" stroke-width="2.3"/>
<line x1="270.3" y1="885" x2="270.3" y2="908.6" stroke="#111" stroke-width="2.3"/>
<text x="127.81" y="880.40" font-size="22.4" textLength="177.41" lengthAdjust="spacingAndGlyphs" fill="#111">Total Liver Protein</text>
<text x="118.41" y="906.90" font-size="23" textLength="33.49" lengthAdjust="spacingAndGlyphs" fill="#111">WT</text>
<text x="167.52" y="906.90" font-size="23" textLength="41.98" lengthAdjust="spacingAndGlyphs" fill="#111">Myc</text>
<text x="223.38" y="904.83" font-size="21.92" textLength="12.03" lengthAdjust="spacingAndGlyphs" fill="#111" style="font-family:'Liberation Serif',serif;stroke-width:0.2px">β</text>
<text x="236.96" y="898.70" font-size="12.5" textLength="27.03" lengthAdjust="spacingAndGlyphs" fill="#111">ΔEx3</text>
<text x="274.59" y="904.93" font-size="21.48" textLength="11.14" lengthAdjust="spacingAndGlyphs" fill="#111" style="font-family:'Liberation Serif',serif;stroke-width:0.2px">β</text>
<text x="285.00" y="898.60" font-size="12.5" textLength="24.35" lengthAdjust="spacingAndGlyphs" fill="#111">ΔEx3</text>
<text x="308.42" y="904.80" font-size="21.5" textLength="19.05" lengthAdjust="spacingAndGlyphs" fill="#111">M</text>
<rect x="106.7" y="911.1" width="221" height="34.0" fill="#d9d9d9" stroke="#1a1a1a" stroke-width="2.2"/>
<rect x="106.7" y="950.3" width="221" height="34.3" fill="#cacaca" stroke="#1a1a1a" stroke-width="2.2"/>
<rect x="106.7" y="990.1" width="221" height="35.1" fill="#cecece" stroke="#1a1a1a" stroke-width="2.2"/>
<rect x="109.9" y="928.4" width="19.0" height="8.5" rx="4.2" fill="#161616" filter="url(#b05)"/>
<rect x="137.2" y="930.6" width="19.5" height="6.5" rx="3.2" fill="#1c1c1c" filter="url(#b05)"/>
<rect x="165.8" y="931.1" width="19.0" height="5.5" rx="2.8" fill="#202020" filter="url(#b05)"/>
<rect x="193.3" y="932.4" width="19.0" height="7.0" rx="3.5" fill="#1a1a1a" filter="url(#b05)"/>
<rect x="222.8" y="925.8" width="17.0" height="3.0" rx="1.5" fill="#5f5f5f" filter="url(#b05)"/>
<rect x="222.8" y="934.5" width="17.0" height="3.5" rx="1.8" fill="#373737" filter="url(#b05)"/>
<rect x="249.1" y="923.8" width="19.5" height="7.0" rx="3.5" fill="#181818" filter="url(#b05)"/>
<rect x="276.6" y="925.3" width="19.5" height="6.0" rx="3.0" fill="#1c1c1c" filter="url(#b05)"/>
<rect x="303.1" y="922.5" width="19.0" height="6.5" rx="3.2" fill="#181818" filter="url(#b05)"/>
<rect x="304.1" y="934.4" width="17.0" height="3.0" rx="1.5" fill="#696969" filter="url(#b05)"/>
<rect x="108.7" y="964.2" width="18.0" height="5.0" rx="2.5" fill="#787878" filter="url(#b05)"/>
<rect x="136.0" y="964.2" width="19.0" height="5.0" rx="2.5" fill="#969696" filter="url(#b05)"/>
<rect x="165.0" y="965.2" width="19.0" height="4.0" rx="2.0" fill="#b9b9b9" filter="url(#b05)"/>
<rect x="193.3" y="966.2" width="19.0" height="5.5" rx="2.8" fill="#828282" filter="url(#b05)"/>
<rect x="221.5" y="963.2" width="20.0" height="9.0" rx="4.5" fill="#191919" filter="url(#b05)"/>
<rect x="250.8" y="964.5" width="18.0" height="5.5" rx="2.8" fill="#505050" filter="url(#b05)"/>
<rect x="278.2" y="963.2" width="20.0" height="8.0" rx="4.0" fill="#1e1e1e" filter="url(#b05)"/>
<rect x="305.1" y="962.5" width="19.5" height="8.5" rx="4.2" fill="#1e1e1e" filter="url(#b05)"/>
<rect x="109.6" y="1000.5" width="22.0" height="9.0" rx="4.5" fill="#141414" filter="url(#b05)"/>
<rect x="137.8" y="1001.8" width="20.5" height="7.5" rx="3.8" fill="#181818" filter="url(#b05)"/>
<rect x="165.8" y="1003.8" width="20.5" height="6.5" rx="3.2" fill="#181818" filter="url(#b05)"/>
<rect x="194.3" y="1002.5" width="20.5" height="7.0" rx="3.5" fill="#181818" filter="url(#b05)"/>
<rect x="221.8" y="1002.0" width="20.5" height="7.0" rx="3.5" fill="#181818" filter="url(#b05)"/>
<rect x="250.2" y="1001.7" width="20.5" height="7.0" rx="3.5" fill="#181818" filter="url(#b05)"/>
<rect x="278.4" y="1000.9" width="21.0" height="7.0" rx="3.5" fill="#181818" filter="url(#b05)"/>
<rect x="305.1" y="1002.0" width="19.5" height="8.0" rx="4.0" fill="#181818" filter="url(#b05)"/>
<text x="32.35" y="929.40" font-size="22.4" textLength="56.93" lengthAdjust="spacingAndGlyphs" fill="#111">NQO1</text>
<text x="82.62" y="946.00" font-size="16" textLength="6.64" lengthAdjust="spacingAndGlyphs" fill="#111">*</text>
<line x1="94.7" y1="923" x2="101.5" y2="923" stroke="#111" stroke-width="2.5"/>
<line x1="94.7" y1="932.1" x2="101.5" y2="932.1" stroke="#111" stroke-width="2.5"/>
<text x="42.04" y="965.90" font-size="21" textLength="40.96" lengthAdjust="spacingAndGlyphs" fill="#111">p62/</text>
<text x="17.68" y="989.10" font-size="23" textLength="82.90" lengthAdjust="spacingAndGlyphs" fill="#111">SQSTM1</text>
<line x1="94.7" y1="967.9" x2="101.5" y2="967.9" stroke="#111" stroke-width="2.5"/>
<text x="17.54" y="1016.10" font-size="22.4" textLength="74.77" lengthAdjust="spacingAndGlyphs" fill="#111">GADPH</text>
<line x1="94.7" y1="1007.5" x2="101.5" y2="1007.5" stroke="#111" stroke-width="2.5"/>
<text x="115.33" y="1047.20" font-size="18.5" textLength="8.51" lengthAdjust="spacingAndGlyphs" fill="#111">1</text>
<text x="144.08" y="1047.20" font-size="18.5" textLength="11.23" lengthAdjust="spacingAndGlyphs" fill="#111">2</text>
<text x="173.96" y="1047.20" font-size="18.5" textLength="10.79" lengthAdjust="spacingAndGlyphs" fill="#111">3</text>
<text x="198.25" y="1047.20" font-size="18.5" textLength="10.82" lengthAdjust="spacingAndGlyphs" fill="#111">4</text>
<text x="227.36" y="1047.20" font-size="18.5" textLength="11.61" lengthAdjust="spacingAndGlyphs" fill="#111">5</text>
<text x="256.71" y="1047.20" font-size="18.5" textLength="11.93" lengthAdjust="spacingAndGlyphs" fill="#111">6</text>
<text x="281.46" y="1047.20" font-size="18.5" textLength="11.26" lengthAdjust="spacingAndGlyphs" fill="#111">7</text>
<text x="311.08" y="1047.20" font-size="18.5" textLength="11.73" lengthAdjust="spacingAndGlyphs" fill="#111">8</text>
<rect x="349.2" y="840.9" width="347.40000000000003" height="216.89999999999998" fill="none" stroke="#111" stroke-width="2.6"/>
<text x="363.13" y="867.35" font-size="25.9" textLength="19.67" lengthAdjust="spacingAndGlyphs" font-weight="bold" fill="#111" style="stroke-width:1.1px">D</text>
<line x1="412.8" y1="854" x2="412.8" y2="905" stroke="#111" stroke-width="2.4"/>
<line x1="686.6" y1="853.8" x2="686.6" y2="905.1" stroke="#111" stroke-width="2.4"/>
<line x1="411.6" y1="855.1" x2="687.8" y2="855.1" stroke="#111" stroke-width="2.4"/>
<line x1="411.6" y1="879.5" x2="687.8" y2="879.5" stroke="#111" stroke-width="2.5"/>
<line x1="486.2" y1="879" x2="486.2" y2="905" stroke="#111" stroke-width="2.3"/>
<line x1="549.4" y1="879" x2="549.4" y2="905" stroke="#111" stroke-width="2.3"/>
<line x1="595.5" y1="879" x2="595.5" y2="905" stroke="#111" stroke-width="2.3"/>
<line x1="637.7" y1="879" x2="637.7" y2="905" stroke="#111" stroke-width="2.3"/>
<line x1="661.7" y1="879" x2="661.7" y2="905" stroke="#111" stroke-width="2.3"/>
<text x="492.56" y="875.20" font-size="21.8" textLength="113.28" lengthAdjust="spacingAndGlyphs" fill="#111">Liver cDNA</text>
<text x="437.52" y="899.60" font-size="19.8" textLength="29.93" lengthAdjust="spacingAndGlyphs" fill="#111">WT</text>
<text x="510.96" y="899.60" font-size="19.8" textLength="14.82" lengthAdjust="spacingAndGlyphs" fill="#111">C</text>
<text x="563.75" y="899.40" font-size="19.8" textLength="18.80" lengthAdjust="spacingAndGlyphs" fill="#111">M</text>
<text x="597.24" y="899.40" font-size="19.8" textLength="32.47" lengthAdjust="spacingAndGlyphs" fill="#111">CM</text>
<text x="645.72" y="899.48" font-size="18.43" textLength="10.13" lengthAdjust="spacingAndGlyphs" fill="#111" style="font-family:'Liberation Serif',serif;stroke-width:0.2px">β</text>
<text x="662.14" y="899.48" font-size="18.43" textLength="10.76" lengthAdjust="spacingAndGlyphs" fill="#111" style="font-family:'Liberation Serif',serif;stroke-width:0.2px">β</text>
<text x="672.03" y="899.50" font-size="16.7" textLength="14.94" lengthAdjust="spacingAndGlyphs" fill="#111">M</text>
<rect x="414.00" y="909.00" width="270.80" height="36.00" fill="#282828"/>
<rect x="414.00" y="948.50" width="270.80" height="35.50" fill="#3a3a3a"/>
<rect x="414.00" y="987.00" width="270.80" height="37.00" fill="#3d3d3d"/>
<rect x="424.0" y="923.1" width="20.0" height="9.0" rx="4.5" fill="#767676" opacity="0.28" filter="url(#b3)"/>
<rect x="425.0" y="925.6" width="18.0" height="4.0" rx="2.0" fill="#767676" filter="url(#b1)"/>
<rect x="446.0" y="922.9" width="20.0" height="9.5" rx="4.8" fill="#969696" opacity="0.28" filter="url(#b3)"/>
<rect x="447.0" y="925.4" width="18.0" height="4.5" rx="2.2" fill="#969696" filter="url(#b1)"/>
<rect x="467.0" y="922.9" width="20.0" height="9.5" rx="4.8" fill="#aaaaaa" opacity="0.28" filter="url(#b3)"/>
<rect x="468.0" y="925.4" width="18.0" height="4.5" rx="2.2" fill="#aaaaaa" filter="url(#b1)"/>
<rect x="487.5" y="923.1" width="20.0" height="9.0" rx="4.5" fill="#969696" opacity="0.28" filter="url(#b3)"/>
<rect x="488.5" y="925.6" width="18.0" height="4.0" rx="2.0" fill="#969696" filter="url(#b1)"/>
<rect x="509.0" y="923.1" width="20.0" height="9.0" rx="4.5" fill="#969696" opacity="0.28" filter="url(#b3)"/>
<rect x="510.0" y="925.6" width="18.0" height="4.0" rx="2.0" fill="#969696" filter="url(#b1)"/>
<rect x="530.0" y="923.1" width="19.0" height="9.0" rx="4.5" fill="#969696" opacity="0.28" filter="url(#b3)"/>
<rect x="531.0" y="925.6" width="17.0" height="4.0" rx="2.0" fill="#969696" filter="url(#b1)"/>
<rect x="551.0" y="923.3" width="21.0" height="9.0" rx="4.5" fill="#969696" opacity="0.28" filter="url(#b3)"/>
<rect x="552.0" y="925.8" width="19.0" height="4.0" rx="2.0" fill="#969696" filter="url(#b1)"/>
<rect x="573.0" y="923.3" width="20.0" height="9.0" rx="4.5" fill="#969696" opacity="0.28" filter="url(#b3)"/>
<rect x="574.0" y="925.8" width="18.0" height="4.0" rx="2.0" fill="#969696" filter="url(#b1)"/>
<rect x="574.0" y="918.6" width="18.0" height="8.0" rx="4.0" fill="#464646" opacity="0.28" filter="url(#b3)"/>
<rect x="575.0" y="921.1" width="16.0" height="3.0" rx="1.5" fill="#464646" filter="url(#b1)"/>
<rect x="593.5" y="924.8" width="20.0" height="9.0" rx="4.5" fill="#969696" opacity="0.28" filter="url(#b3)"/>
<rect x="594.5" y="927.3" width="18.0" height="4.0" rx="2.0" fill="#969696" filter="url(#b1)"/>
<rect x="615.3" y="925.3" width="20.0" height="9.0" rx="4.5" fill="#a5a5a5" opacity="0.28" filter="url(#b3)"/>
<rect x="616.3" y="927.8" width="18.0" height="4.0" rx="2.0" fill="#a5a5a5" filter="url(#b1)"/>
<rect x="635.0" y="921.0" width="22.0" height="9.5" rx="4.8" fill="#ebebeb" opacity="0.28" filter="url(#b3)"/>
<rect x="636.0" y="923.5" width="20.0" height="4.5" rx="2.2" fill="#ebebeb" filter="url(#b1)"/>
<rect x="635.5" y="927.8" width="21.0" height="8.5" rx="4.2" fill="#646464" opacity="0.28" filter="url(#b3)"/>
<rect x="636.5" y="930.2" width="19.0" height="3.5" rx="1.8" fill="#646464" filter="url(#b1)"/>
<rect x="657.8" y="923.5" width="21.0" height="8.5" rx="4.2" fill="#c8c8c8" opacity="0.28" filter="url(#b3)"/>
<rect x="658.8" y="926.0" width="19.0" height="3.5" rx="1.8" fill="#c8c8c8" filter="url(#b1)"/>
<rect x="657.8" y="929.8" width="21.0" height="8.5" rx="4.2" fill="#6e6e6e" opacity="0.28" filter="url(#b3)"/>
<rect x="658.8" y="932.2" width="19.0" height="3.5" rx="1.8" fill="#6e6e6e" filter="url(#b1)"/>
<rect x="636.9" y="961.1" width="21.0" height="10.0" rx="5.0" fill="#f0f0f0" opacity="0.28" filter="url(#b3)"/>
<rect x="637.9" y="963.6" width="19.0" height="5.0" rx="2.5" fill="#f0f0f0" filter="url(#b1)"/>
<rect x="658.8" y="960.9" width="22.0" height="10.5" rx="5.2" fill="#fafafa" opacity="0.28" filter="url(#b3)"/>
<rect x="659.8" y="963.4" width="20.0" height="5.5" rx="2.8" fill="#fafafa" filter="url(#b1)"/>
<rect x="640.4" y="964.9" width="14.0" height="2.5" rx="1.2" fill="#ffffff" filter="url(#b05)"/>
<rect x="662.3" y="964.9" width="15.0" height="2.5" rx="1.2" fill="#ffffff" filter="url(#b05)"/>
<rect x="419.0" y="1002.0" width="22.0" height="6.5" rx="3.2" fill="#f0f0f0" filter="url(#b08)"/>
<rect x="421.0" y="1003.5" width="18.0" height="3.5" rx="1.8" fill="#ffffff" filter="url(#b05)"/>
<rect x="442.0" y="1000.8" width="22.0" height="6.5" rx="3.2" fill="#f0f0f0" filter="url(#b08)"/>
<rect x="444.0" y="1002.2" width="18.0" height="3.5" rx="1.8" fill="#ffffff" filter="url(#b05)"/>
<rect x="463.5" y="999.8" width="22.0" height="6.5" rx="3.2" fill="#f0f0f0" filter="url(#b08)"/>
<rect x="465.5" y="1001.2" width="18.0" height="3.5" rx="1.8" fill="#ffffff" filter="url(#b05)"/>
<rect x="484.5" y="999.1" width="22.0" height="6.5" rx="3.2" fill="#f0f0f0" filter="url(#b08)"/>
<rect x="486.5" y="1000.6" width="18.0" height="3.5" rx="1.8" fill="#ffffff" filter="url(#b05)"/>
<rect x="505.8" y="999.1" width="22.0" height="6.5" rx="3.2" fill="#f0f0f0" filter="url(#b08)"/>
<rect x="507.8" y="1000.6" width="18.0" height="3.5" rx="1.8" fill="#ffffff" filter="url(#b05)"/>
<rect x="527.5" y="999.1" width="22.0" height="6.5" rx="3.2" fill="#f0f0f0" filter="url(#b08)"/>
<rect x="529.5" y="1000.6" width="18.0" height="3.5" rx="1.8" fill="#ffffff" filter="url(#b05)"/>
<rect x="549.5" y="999.0" width="22.0" height="6.5" rx="3.2" fill="#f0f0f0" filter="url(#b08)"/>
<rect x="551.5" y="1000.5" width="18.0" height="3.5" rx="1.8" fill="#ffffff" filter="url(#b05)"/>
<rect x="570.3" y="1000.8" width="22.0" height="6.5" rx="3.2" fill="#f0f0f0" filter="url(#b08)"/>
<rect x="572.3" y="1002.2" width="18.0" height="3.5" rx="1.8" fill="#ffffff" filter="url(#b05)"/>
<rect x="592.0" y="1001.5" width="22.0" height="6.5" rx="3.2" fill="#f0f0f0" filter="url(#b08)"/>
<rect x="594.0" y="1003.0" width="18.0" height="3.5" rx="1.8" fill="#ffffff" filter="url(#b05)"/>
<rect x="614.3" y="1002.6" width="22.0" height="6.5" rx="3.2" fill="#f0f0f0" filter="url(#b08)"/>
<rect x="616.3" y="1004.1" width="18.0" height="3.5" rx="1.8" fill="#ffffff" filter="url(#b05)"/>
<rect x="637.0" y="1003.6" width="22.0" height="6.5" rx="3.2" fill="#f0f0f0" filter="url(#b08)"/>
<rect x="639.0" y="1005.1" width="18.0" height="3.5" rx="1.8" fill="#ffffff" filter="url(#b05)"/>
<rect x="658.8" y="1006.4" width="22.0" height="6.5" rx="3.2" fill="#f0f0f0" filter="url(#b08)"/>
<rect x="660.8" y="1007.9" width="18.0" height="3.5" rx="1.8" fill="#ffffff" filter="url(#b05)"/>
<text x="353.86" y="929.50" font-size="22.8" textLength="49.38" lengthAdjust="spacingAndGlyphs" font-style="italic" fill="#111">Nqo1</text>
<text x="392.27" y="943.70" font-size="14" textLength="5.44" lengthAdjust="spacingAndGlyphs" fill="#111">*</text>
<line x1="404.8" y1="923.2" x2="411.5" y2="923.2" stroke="#111" stroke-width="2.5"/>
<line x1="404.8" y1="929.9" x2="411.5" y2="929.9" stroke="#111" stroke-width="2.6"/>
<text x="356.85" y="974.00" font-size="22.5" textLength="45.34" lengthAdjust="spacingAndGlyphs" font-style="italic" fill="#111">Cbr3</text>
<line x1="404.8" y1="966.2" x2="411.5" y2="966.2" stroke="#111" stroke-width="2.5"/>
<text x="358.87" y="1013.50" font-size="22.5" textLength="40.82" lengthAdjust="spacingAndGlyphs" font-style="italic" fill="#111">Ppia</text>
<line x1="404.8" y1="1005.2" x2="411.5" y2="1005.2" stroke="#111" stroke-width="2.5"/>
<text x="423.22" y="1047.20" font-size="19.5" textLength="10.06" lengthAdjust="spacingAndGlyphs" fill="#111">1</text>
<text x="446.01" y="1047.20" font-size="19.5" textLength="10.99" lengthAdjust="spacingAndGlyphs" fill="#111">2</text>
<text x="470.28" y="1047.20" font-size="19.5" textLength="10.56" lengthAdjust="spacingAndGlyphs" fill="#111">3</text>
<text x="490.59" y="1047.20" font-size="19.5" textLength="9.93" lengthAdjust="spacingAndGlyphs" fill="#111">4</text>
<text x="513.24" y="1047.20" font-size="19.5" textLength="10.56" lengthAdjust="spacingAndGlyphs" fill="#111">5</text>
<text x="532.01" y="1047.20" font-size="19.5" textLength="10.85" lengthAdjust="spacingAndGlyphs" fill="#111">6</text>
<text x="554.68" y="1047.20" font-size="19.5" textLength="11.01" lengthAdjust="spacingAndGlyphs" fill="#111">7</text>
<text x="575.25" y="1047.20" font-size="19.5" textLength="10.90" lengthAdjust="spacingAndGlyphs" fill="#111">8</text>
<text x="596.53" y="1047.20" font-size="19.5" textLength="11.56" lengthAdjust="spacingAndGlyphs" fill="#111">9</text>
<text x="611.59" y="1047.20" font-size="19.5" textLength="22.09" lengthAdjust="spacingAndGlyphs" fill="#111">10</text>
<text x="638.14" y="1047.20" font-size="19.5" textLength="16.90" lengthAdjust="spacingAndGlyphs" fill="#111">11</text>
<text x="659.24" y="1047.20" font-size="19.5" textLength="21.32" lengthAdjust="spacingAndGlyphs" fill="#111">12</text>
</svg>
</body></html>
